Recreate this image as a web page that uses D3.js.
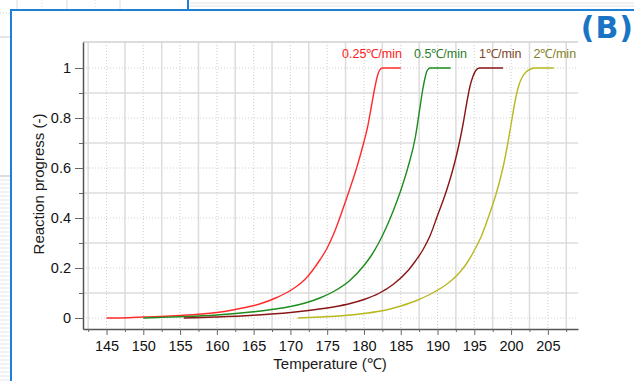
<!DOCTYPE html>
<html>
<head>
<meta charset="utf-8">
<script src="https://cdn.jsdelivr.net/npm/d3@7"></script>
<style>
  body { margin: 0; background: #fff; }
  svg { display: block; font-family: "Liberation Sans", Arial, sans-serif; }
</style>
</head>
<body>
<svg id="chart" width="634" height="381"></svg>
<script>
/* data: [temperature, progress] */
const rate025 = [[145,0],[148,0.001],[150,0.004],[153,0.007],[155,0.01],[158,0.016],[160,0.022],[162,0.031],[164,0.043],[166,0.058],[168,0.08],[170,0.11],[171,0.13],[172,0.155],[173,0.19],[174,0.232],[175,0.28],[176,0.345],[177,0.425],[178,0.51],[179,0.6],[180,0.705],[180.5,0.765],[181,0.845],[181.5,0.925],[181.8,0.965],[182.1,0.99],[182.5,1],[185,1]];
const rate05 = [[150,0],[152,0.002],[155,0.005],[160,0.012],[165,0.025],[168,0.036],[170,0.046],[172,0.06],[174,0.08],[176,0.108],[178,0.148],[180,0.21],[181,0.25],[182,0.3],[183,0.36],[184,0.43],[185,0.51],[186,0.605],[187,0.725],[187.5,0.82],[188,0.915],[188.3,0.96],[188.6,0.99],[189,1],[191.8,1]];
const rate1 = [[155.5,0],[158,0.002],[160,0.004],[165,0.011],[170,0.022],[173,0.032],[176,0.045],[178,0.057],[180,0.074],[182,0.098],[184,0.135],[186,0.19],[187,0.228],[188,0.272],[189,0.33],[190,0.41],[191,0.49],[192,0.585],[193,0.705],[193.5,0.78],[194,0.865],[194.4,0.925],[194.8,0.965],[195.2,0.99],[195.7,1],[198.9,1]];
const rate2 = [[171,0],[174,0.004],[177,0.009],[180,0.018],[183,0.032],[185,0.048],[187,0.068],[189,0.095],[191,0.13],[192,0.153],[193,0.182],[194,0.22],[195,0.27],[196,0.33],[197,0.41],[198,0.5],[199,0.615],[199.5,0.69],[200,0.775],[200.5,0.86],[201,0.925],[201.5,0.963],[202,0.983],[202.6,0.995],[203.3,1],[205.8,1]];

const seriesNames = ["0.25℃/min", "0.5℃/min", "1℃/min", "2℃/min"];
const xTicks = [145,150,155,160,165,170,175,180,185,190,195,200,205];
const xMinor = [142.5,147.5,152.5,157.5,162.5,167.5,172.5,177.5,182.5,187.5,192.5,197.5,202.5,207.5];
const yTicks = [0,0.2,0.4,0.6,0.8,1];
const yMinor = [0.1,0.3,0.5,0.7,0.9];

const lineColors = ["#ff2b2b", "#1c8c1c", "#8a1515", "#b8b81e"];
const labelColors = ["#ff2020", "#2a7d2a", "#7a4626", "#7f7f26"];

const svg = d3.select("#chart");

/* 背景 (頁面其他部分) */
const bg = svg.append("g").attr("class", "background");
[17, 67, 120].forEach(x => bg.append("line").attr("x1", x).attr("x2", x).attr("y1", 0).attr("y2", 9).attr("stroke", "#ddd"));
[42, 95].forEach(x => bg.append("line").attr("x1", x).attr("x2", x).attr("y1", 0).attr("y2", 9).attr("stroke", "#ddd").attr("stroke-dasharray", "1,2"));
[3, 6].forEach(y => bg.append("line").attr("x1", 190).attr("x2", 634).attr("y1", y).attr("y2", y).attr("stroke", "#e2e2e2"));
bg.append("line").attr("x1", 0).attr("x2", 10).attr("y1", 37).attr("y2", 37).attr("stroke", "#ccc");
bg.append("line").attr("x1", 0).attr("x2", 10).attr("y1", 13).attr("y2", 13).attr("stroke", "#ccc").attr("stroke-dasharray", "1,2");
bg.append("line").attr("x1", 0).attr("x2", 10).attr("y1", 176).attr("y2", 176).attr("stroke", "#bbb");
d3.range(180, 381, 4).forEach(y => bg.append("line").attr("x1", 0).attr("x2", 10).attr("y1", y).attr("y2", y).attr("stroke", "#e6e6e6"));

/* 藍色框 */
svg.append("path")
   .attr("d", "M11,381 L11,10 L634,10 M188,0 L188,10")
   .attr("fill", "none").attr("stroke", "#1d7fd6").attr("stroke-width", 2);

/* scale */
const x = d3.scaleLinear().domain([141.8, 209.1]).range([83, 578]);
const y = d3.scaleLinear().domain([-0.044, 1.104]).range([329, 42]);

/* grid */
const grid = svg.append("g").attr("class", "grid");
grid.selectAll(".vminor").data(xMinor).join("line")
    .attr("x1", d => x(d)).attr("x2", d => x(d)).attr("y1", 42).attr("y2", 329)
    .attr("stroke", "#dcdcdc").attr("stroke-width", 1.5);
grid.selectAll(".hminor").data(yMinor).join("line")
    .attr("x1", 83).attr("x2", 578).attr("y1", d => y(d)).attr("y2", d => y(d))
    .attr("stroke", "#dcdcdc").attr("stroke-width", 1.5);
grid.selectAll(".vmajor").data(xTicks).join("line")
    .attr("x1", d => x(d)).attr("x2", d => x(d)).attr("y1", 42).attr("y2", 329)
    .attr("stroke", "#cfcfcf").attr("stroke-dasharray", "1,2");
grid.selectAll(".hmajor").data(yTicks).join("line")
    .attr("x1", 83).attr("x2", 578).attr("y1", d => y(d)).attr("y2", d => y(d))
    .attr("stroke", "#cfcfcf").attr("stroke-dasharray", "1,2");
grid.append("line").attr("x1", 83).attr("x2", 578).attr("y1", 42).attr("y2", 42)
    .attr("stroke", "#d0d0d0").attr("stroke-width", 1.5);

/* draw line */
const lineGen = d3.line().x(d => x(d[0])).y(d => y(d[1])).curve(d3.curveMonotoneX);
const series = [rate025, rate05, rate1, rate2];
svg.append("g").attr("class", "lines")
   .selectAll("path").data(series).join("path")
   .attr("d", d => lineGen(d))
   .attr("fill", "none")
   .attr("stroke", (d, i) => lineColors[i])
   .attr("stroke-width", 1.4);

/* axes */
svg.append("g").attr("transform", "translate(0,329)")
    .call(d3.axisBottom(x).tickValues(xTicks).tickSize(6).tickSizeOuter(0).tickPadding(6));
svg.append("g").attr("transform", "translate(0,329)")
    .call(d3.axisBottom(x).tickValues(xMinor).tickSize(3).tickSizeOuter(0).tickFormat(""))
    .select(".domain").remove();
svg.append("g").attr("transform", "translate(83,0)")
    .call(d3.axisLeft(y).tickValues(yTicks).tickSize(8).tickSizeOuter(0).tickPadding(4).tickFormat(d3.format("~g")));
svg.append("g").attr("transform", "translate(83,0)")
    .call(d3.axisLeft(y).tickValues(yMinor).tickSize(4).tickSizeOuter(0).tickFormat(""))
    .select(".domain").remove();

svg.selectAll(".domain").attr("stroke", "#555").attr("stroke-width", 1.5);
svg.selectAll(".tick line").attr("stroke", "#666");
svg.selectAll(".tick text").attr("font-size", 14.5).attr("fill", "#111")
   .attr("font-family", "'Liberation Sans', Arial, sans-serif");

/* axis titles */
svg.append("text").attr("x", 330).attr("y", 369).attr("text-anchor", "middle")
   .attr("font-size", 15).attr("fill", "#1a1a1a").text("Temperature (℃)");
svg.append("text").attr("transform", "translate(44,184) rotate(-90)").attr("text-anchor", "middle")
   .attr("font-size", 15).attr("fill", "#1a1a1a").text("Reaction progress (-)");

/* legend */
let lx = 342;
seriesNames.forEach((name, i) => {
  const t = svg.append("text").attr("x", lx).attr("y", 58)
     .attr("font-size", 12.5).attr("fill", labelColors[i]).text(name);
  lx += t.node().getComputedTextLength() + 12;
});

/* panel label */
svg.append("text").attr("x", 634).attr("y", 38).attr("text-anchor", "end")
   .attr("font-family", "'DejaVu Sans', sans-serif").attr("font-weight", "bold")
   .attr("font-size", 30).attr("letter-spacing", 1).attr("fill", "#1a74c6").text("(B)");
</script>
</body>
</html>
